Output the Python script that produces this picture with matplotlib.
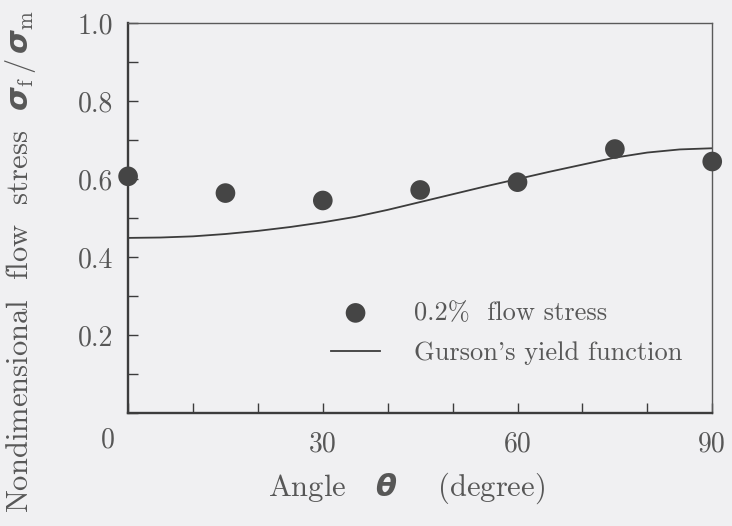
"""
Nondimensional flow stress vs. angle: measured 0.2% flow stress and Gurson's yield function.
"""

import matplotlib
matplotlib.use("Agg")
import matplotlib.pyplot as plt
from matplotlib.ticker import MultipleLocator

# measured 0.2% flow stress
angle_pts = [0, 15, 30, 45, 60, 75, 90]
stress_pts = [0.607, 0.564, 0.545, 0.572, 0.592, 0.677, 0.645]

# Gurson's yield function curve (read every 5 degrees)
angle_curve = [0, 5, 10, 15, 20, 25, 30, 35, 40, 45, 50, 55, 60, 65, 70, 75, 80, 85, 90]
stress_curve = [0.449, 0.450, 0.453, 0.459, 0.467, 0.477, 0.489, 0.503, 0.521, 0.541,
                0.561, 0.581, 0.600, 0.619, 0.637, 0.655, 0.668, 0.676, 0.679]

x_ticks = [0, 30, 60, 90]
x_tick_labels = ["", "30", "60", "90"]
y_ticks = [0.2, 0.4, 0.6, 0.8, 1.0]
y_tick_labels = ["0.2", "0.4", "0.6", "0.8", "1.0"]

BG = "#f0f0f2"
INK = "#3c3c3c"
TEXT = "#575757"

plt.rcParams["font.family"] = ["cmr10", "DejaVu Serif"]
plt.rcParams["mathtext.fontset"] = "custom"
plt.rcParams["mathtext.rm"] = "cmr10"
plt.rcParams["mathtext.it"] = "DejaVu Sans:italic:bold"
plt.rcParams["mathtext.bf"] = "DejaVu Sans:bold"
plt.rcParams["axes.unicode_minus"] = False

fig = plt.figure(figsize=(7.32, 5.26), dpi=100, facecolor=BG)
ax = fig.add_axes([0.175, 0.215, 0.798, 0.741], facecolor=BG)

ax.plot(angle_curve, stress_curve, color=INK, lw=1.3, label="Gurson's yield function", zorder=2)
ax.scatter(angle_pts, stress_pts, s=200, color="#454545", edgecolors="none",
           label="0.2%  flow stress", zorder=3, clip_on=False)

ax.set_xlim(0, 90)
ax.set_ylim(0, 1.0)
ax.set_xticks(x_ticks)
ax.set_xticklabels(x_tick_labels)
ax.set_yticks(y_ticks)
ax.set_yticklabels(y_tick_labels)
ax.xaxis.set_minor_locator(MultipleLocator(10))
ax.yaxis.set_minor_locator(MultipleLocator(0.1))
ax.tick_params(which="both", direction="in", length=7, width=1.0, color=INK,
               top=False, right=False)
ax.tick_params(axis="y", which="major", labelsize=20, pad=11, labelcolor=TEXT)
ax.tick_params(axis="x", which="major", labelsize=20, pad=13, labelcolor=TEXT)

for side in ["left", "bottom"]:
    ax.spines[side].set_linewidth(1.7)
    ax.spines[side].set_color(INK)
for side in ["top", "right"]:
    ax.spines[side].set_linewidth(1.0)
    ax.spines[side].set_color("#5a5a5a")

# the origin label sits left of the corner in the original
ax.annotate("0", xy=(0, 0), xycoords="axes fraction", xytext=(-20, -27),
            textcoords="offset pixels", ha="center", va="center",
            fontsize=20, color=TEXT)

handles, labels = ax.get_legend_handles_labels()
leg = ax.legend(handles[::-1], labels[::-1], loc="center left",
                bbox_to_anchor=(0.325, 0.205), frameon=False, fontsize=19,
                handlelength=1.85, handletextpad=1.3, labelspacing=0.62,
                borderpad=0, scatterpoints=1)
for t in leg.get_texts():
    t.set_color(TEXT)

fig.text(0.555, 1 - 488 / 526, r"Angle   $\theta$    (degree)", ha="center", va="center",
         fontsize=22, color=TEXT)
fig.text(0.028, 1 - 262 / 526,
         r"Nondimensional  flow  stress  $\sigma_{\mathrm{f}}\,/\,\sigma_{\mathrm{m}}$",
         rotation=90, ha="center", va="center", fontsize=22, color=TEXT)

fig.savefig("out.png", dpi=100, facecolor=BG)
